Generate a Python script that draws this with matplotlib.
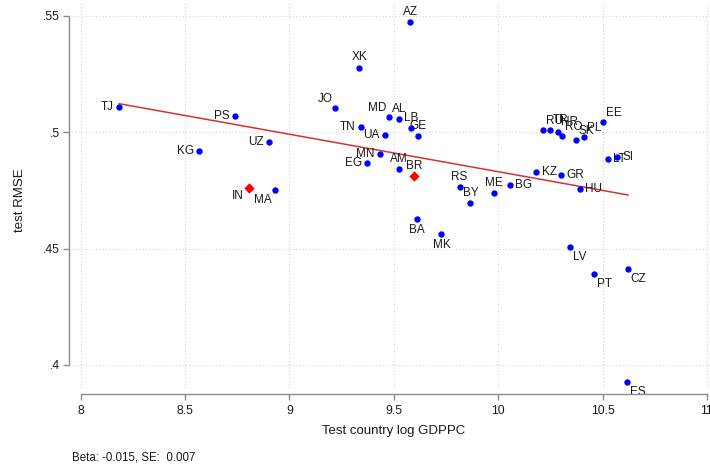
import numpy as np
import matplotlib
matplotlib.use("Agg")
import matplotlib.pyplot as plt
from matplotlib.ticker import FuncFormatter

plt.rcParams["font.family"] = ["Liberation Sans", "DejaVu Sans"]

# Country codes, test-country log GDP per capita and test RMSE
codes = ["TJ", "PS", "KG", "UZ", "IN", "MA", "JO", "XK", "AZ", "TN", "MD", "AL",
         "UA", "LB", "GE", "MN", "EG", "AM", "BR", "BA", "MK", "RS", "BY", "ME",
         "BG", "KZ", "RU", "TR", "HR", "GR", "RO", "HU", "SK", "LV", "PL", "PT",
         "EE", "LT", "SI", "CZ", "ES"]
log_gdppc = [8.184, 8.739, 8.568, 8.902, 8.808, 8.930, 9.219, 9.335, 9.578, 9.345,
             9.476, 9.524, 9.458, 9.583, 9.616, 9.434, 9.373, 9.524, 9.597, 9.610,
             9.728, 9.815, 9.867, 9.979, 10.056, 10.182, 10.214, 10.249, 10.289,
             10.301, 10.306, 10.391, 10.372, 10.345, 10.412, 10.461, 10.504,
             10.525, 10.571, 10.622, 10.618]
test_rmse = [0.5107, 0.5069, 0.4917, 0.4956, 0.4760, 0.4753, 0.5103, 0.5277, 0.5474,
             0.5020, 0.5063, 0.5056, 0.4987, 0.5019, 0.4984, 0.4904, 0.4869, 0.4843,
             0.4810, 0.4629, 0.4564, 0.4763, 0.4696, 0.4739, 0.4773, 0.4830, 0.5009,
             0.5011, 0.5001, 0.4817, 0.4983, 0.4757, 0.4966, 0.4507, 0.4979, 0.4390,
             0.5043, 0.4884, 0.4893, 0.4413, 0.3927]
highlighted = ["IN", "BR"]
beta_text = "Beta: -0.015, SE:  0.007"

# label placement as Stata-style clock positions
label_clock = {"TJ": 9, "PS": 9, "KG": 9, "UZ": 9, "IN": 8, "MA": 7, "JO": 11,
               "XK": 12, "AZ": 12, "TN": 9, "MD": 11, "AL": 12, "UA": 9, "LB": 12,
               "GE": 12, "MN": 9, "EG": 9, "AM": 12, "BR": 12, "BA": 6, "MK": 6,
               "RS": 12, "BY": 12, "ME": 12, "BG": 3, "KZ": 3, "GR": 3, "HU": 3,
               "LV": 5, "PT": 5, "CZ": 5, "ES": 5, "LT": 3, "SI": 3}
CLOCK = {
    12: ((0, 3), "center", "bottom"),
    1: ((2, 2.5), "left", "bottom"),
    3: ((4, 0), "left", "center"),
    5: ((2, -3), "left", "top"),
    6: ((0, -4), "center", "top"),
    7: ((-2, -3), "right", "top"),
    8: ((-4, -1.5), "right", "top"),
    9: ((-4, 0), "right", "center"),
    11: ((-2, 2.5), "right", "bottom"),
}

TEXT = "#1a1a1a"
AXIS = "#8c8c8c"
GRID = "#d4d4d4"

x = np.array(log_gdppc)
y = np.array(test_rmse)
is_hl = np.array([c in highlighted for c in codes])

fig = plt.figure(figsize=(7.1, 4.68), dpi=100)
ax = fig.add_axes([72 / 710, 80 / 468, 638 / 710, 386 / 468])

ax.set_xlim(7.958, 11.015)
ax.set_ylim(0.3901, 0.5559)

ax.set_xticks([8, 8.5, 9, 9.5, 10, 10.5, 11])
ax.set_xticklabels(["8", "8.5", "9", "9.5", "10", "10.5", "11"])
ax.set_yticks([0.4, 0.45, 0.5, 0.55])
ax.yaxis.set_major_formatter(FuncFormatter(lambda v, p: f"{v:g}".lstrip("0")))

ax.grid(True, color=GRID, linestyle=(0, (1, 2)), linewidth=0.8)
ax.set_axisbelow(True)

for s in ["top", "right"]:
    ax.spines[s].set_visible(False)
ax.spines["left"].set_position(("outward", 2))
ax.spines["left"].set_bounds(0.4, 0.55)
ax.spines["bottom"].set_position(("outward", 4.5))
ax.spines["bottom"].set_bounds(8, 11)
for s in ["left", "bottom"]:
    ax.spines[s].set_color(AXIS)
    ax.spines[s].set_linewidth(1.0)
ax.tick_params(colors=AXIS, labelcolor=TEXT, length=4, width=1.0, labelsize=8.7)
ax.tick_params(axis="y", pad=2.5)
ax.tick_params(axis="x", pad=4)

# linear fit across the data range
b, a = np.polyfit(x, y, 1)
xf = np.array([x.min(), x.max()])
ax.plot(xf, a + b * xf, color="#d43333", linewidth=1.1, zorder=2)

ax.scatter(x[~is_hl], y[~is_hl], s=21, color="#0000ff", linewidths=0, zorder=3)
ax.scatter(x[is_hl], y[is_hl], s=28, marker="D", color="#ff0000", linewidths=0, zorder=3)

for c, xi, yi in zip(codes, x, y):
    (dx, dy), ha, va = CLOCK[label_clock.get(c, 1)]
    ax.annotate(c, (xi, yi), xytext=(dx, dy), textcoords="offset points",
                ha=ha, va=va, fontsize=8.5, color=TEXT, zorder=2.5)

fig.text(20 / 710, 1 - 200 / 468, "test RMSE", rotation=90, ha="center", va="center",
         fontsize=9.5, color=TEXT)
fig.text(394 / 710, 1 - 431 / 468, "Test country log GDPPC", ha="center", va="center",
         fontsize=9.5, color=TEXT)
fig.text(72 / 710, 1 - 458 / 468, beta_text, ha="left", va="center",
         fontsize=8.3, color=TEXT)

fig.savefig("out.png", dpi=100, facecolor="white")
